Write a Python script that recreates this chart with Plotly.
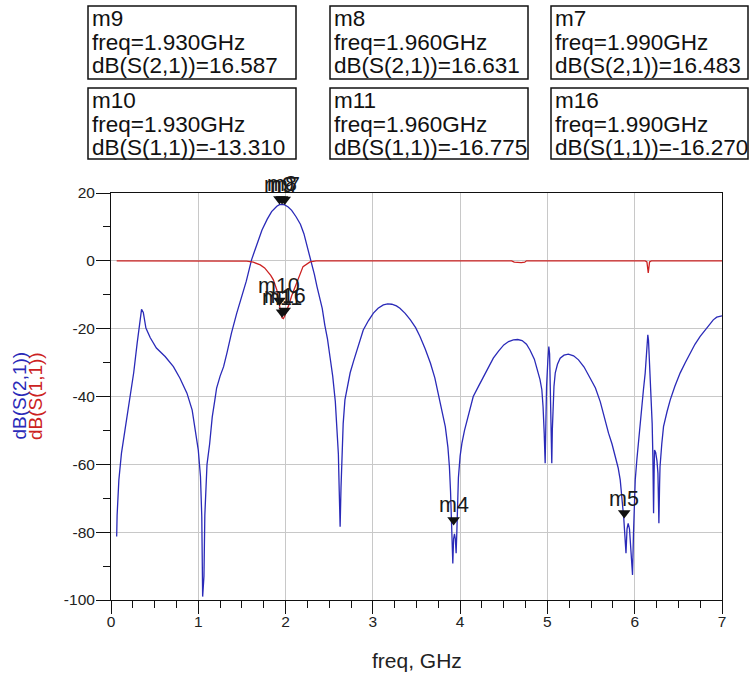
import plotly.graph_objects as go

# ---------------------------------------------------------------- data
# dB(S(2,1)) sweep, frequency in GHz
s21_freq = [0.065, 0.07, 0.09, 0.12, 0.16, 0.21, 0.26, 0.30, 0.33, 0.35, 0.37, 0.40, 0.45,
            0.52, 0.62, 0.715, 0.79, 0.87, 0.93, 0.96, 1.00, 1.025, 1.04, 1.05, 1.065,
            1.075, 1.10, 1.13, 1.16, 1.19, 1.21, 1.25, 1.29, 1.33, 1.38, 1.44, 1.50, 1.55,
            1.61, 1.67, 1.73, 1.79, 1.84, 1.90, 1.93, 1.96, 1.99, 2.03, 2.07, 2.12, 2.17,
            2.21, 2.24, 2.27, 2.30, 2.33, 2.36, 2.39, 2.42, 2.45, 2.48, 2.51, 2.54, 2.57,
            2.59, 2.605, 2.615, 2.625, 2.635, 2.645, 2.66, 2.68, 2.71, 2.74, 2.78, 2.816,
            2.85, 2.89, 2.95, 3.006, 3.06, 3.12, 3.17, 3.217, 3.27, 3.31, 3.37, 3.43, 3.49,
            3.54, 3.60, 3.66, 3.71, 3.75, 3.79, 3.83, 3.86, 3.877, 3.89, 3.897, 3.905,
            3.916, 3.925, 3.935, 3.945, 3.954, 3.962, 3.97, 3.98, 4.00, 4.02, 4.05, 4.08,
            4.115, 4.15, 4.21, 4.27, 4.33, 4.38, 4.44, 4.50, 4.555, 4.61, 4.66, 4.71, 4.76,
            4.80, 4.85, 4.886, 4.915, 4.936, 4.95, 4.963, 4.974, 4.982, 4.99, 5.005, 5.016,
            5.025, 5.03, 5.04, 5.05, 5.056, 5.062, 5.075, 5.09, 5.115, 5.146, 5.19, 5.24,
            5.30, 5.356, 5.42, 5.49, 5.55, 5.605, 5.65, 5.70, 5.74, 5.776, 5.81, 5.834,
            5.85, 5.864, 5.875, 5.883, 5.90, 5.912, 5.925, 5.94, 5.96, 5.975, 5.986, 5.995,
            6.006, 6.025, 6.044, 6.063, 6.083, 6.10, 6.12, 6.14, 6.15, 6.158, 6.166, 6.178,
            6.19, 6.20, 6.208, 6.216, 6.222, 6.227, 6.24, 6.255, 6.266, 6.277, 6.285, 6.29,
            6.31, 6.33, 6.37, 6.407, 6.46, 6.52, 6.58, 6.636, 6.69, 6.75, 6.81, 6.865,
            6.90, 6.94, 6.97, 7.00]
s21_db = [-81.3, -75.0, -64.6, -56.7, -49.9, -42.0, -33.0, -24.2, -18.3, -14.3, -15.2, -19.8,
          -22.7, -25.7, -28.2, -31.2, -34.6, -39.0, -44.0, -48.9, -55.8, -63.6, -75.4, -99.0,
          -93.0, -75.0, -60.0, -54.0, -46.0, -41.0, -37.5, -34.0, -31.2, -27.0, -21.3, -15.5,
          -10.5, -6.0, 0.3, 5.0, 9.1, 12.3, 14.5, 16.1, 16.587, 16.631, 16.483, 15.9, 14.9,
          13.0, 10.8, 8.0, 5.2, 2.2, -0.7, -4.0, -7.6, -11.0, -14.0, -19.0, -23.0, -28.5,
          -34.0, -41.5, -50.0, -57.0, -68.0, -78.4, -67.0, -56.7, -48.0, -41.0, -36.5, -33.0,
          -29.5, -26.3, -23.2, -20.4, -17.6, -15.4, -14.0, -13.0, -12.7, -12.8, -13.3, -14.0,
          -15.5, -17.4, -19.7, -22.3, -26.0, -30.2, -34.5, -39.0, -43.5, -48.9, -55.0, -60.7,
          -68.0, -74.4, -82.0, -89.2, -82.0, -80.5, -82.0, -86.2, -80.0, -74.4, -64.0, -57.5,
          -53.8, -50.0, -46.9, -43.5, -40.0, -37.0, -34.1, -31.2, -28.7, -26.6, -24.8, -23.8,
          -23.3, -23.2, -23.5, -24.6, -26.3, -29.0, -32.2, -35.0, -38.0, -43.0, -50.8, -59.7,
          -48.0, -37.1, -29.2, -25.3, -27.5, -33.0, -50.8, -59.7, -50.0, -43.0, -37.0, -33.0,
          -30.5, -28.7, -27.8, -27.5, -28.0, -29.2, -31.3, -34.6, -37.5, -41.5, -46.0, -50.8,
          -54.0, -57.7, -61.0, -64.6, -68.5, -72.5, -76.0, -79.3, -86.2, -79.0, -77.4, -79.0,
          -86.2, -92.6, -80.3, -72.0, -64.6, -58.5, -52.8, -48.0, -43.0, -38.0, -33.1, -25.3,
          -21.8, -23.5, -28.2, -32.2, -38.0, -48.0, -57.7, -74.4, -63.0, -55.8, -56.5, -59.0,
          -62.6, -77.4, -66.0, -60.7, -54.0, -48.9, -44.5, -41.0, -37.0, -33.1, -30.0, -27.2,
          -24.6, -22.3, -20.2, -18.4, -17.4, -16.6, -16.3, -16.2]

# dB(S(1,1)) sweep
s11_freq = [0.065, 1.50, 1.555, 1.63, 1.71, 1.76, 1.80, 1.83, 1.86, 1.88, 1.90, 1.915, 1.93,
            1.945, 1.96, 1.975, 1.99, 2.01, 2.04, 2.07, 2.11, 2.15, 2.20, 2.28, 2.35, 4.59,
            4.62, 4.70, 4.74, 4.76, 6.12, 6.14, 6.155, 6.17, 6.19, 7.00]
s11_db = [0.0, 0.0, -0.1, -0.4, -1.2, -2.1, -3.2, -4.3, -5.6, -7.0, -8.6, -10.8, -13.31,
          -15.3, -16.775, -17.0, -16.27, -15.0, -12.8, -10.3, -7.6, -4.6, -1.7, -0.3, 0.0, 0.0,
          -0.4, -0.5, -0.4, 0.0, 0.0, -0.3, -3.6, -0.3, 0.0, 0.0]

# markers placed on the traces
mk_names = ["m9", "m8", "m7", "m10", "m11", "m16", "m4", "m5"]
mk_freq = [1.930, 1.960, 1.990, 1.930, 1.960, 1.990, 3.925, 5.880]
mk_db = [16.587, 16.631, 16.483, -13.310, -16.775, -16.270, -78.0, -76.0]
mk_trace = ["dB(S(2,1))", "dB(S(2,1))", "dB(S(2,1))", "dB(S(1,1))", "dB(S(1,1))",
            "dB(S(1,1))", "dB(S(2,1))", "dB(S(2,1))"]
# readout boxes (first six markers), two rows of three
box_markers = ["m9", "m8", "m7", "m10", "m11", "m16"]

x_ticks = [0, 1, 2, 3, 4, 5, 6, 7]
y_ticks = [-100, -80, -60, -40, -20, 0, 20]

# ---------------------------------------------------------------- layout geometry
W, H = 753, 673
PL, PR, PT, PB = 111, 722, 193, 600          # plot area in pixels
Y_MIN, Y_MAX = -100, 20
FONT = "Liberation Sans, Arial, sans-serif"
BLUE = "#2a2ab8"
RED = "#cc2222"


def fx(px):
    return (px - PL) / (PR - PL)


def fy(py):
    return (PB - py) / (PB - PT)


px_per_db = (PB - PT) / (Y_MAX - Y_MIN)

fig = go.Figure()
fig.add_trace(go.Scatter(x=s21_freq, y=s21_db, mode="lines", name="dB(S(2,1))",
                         line=dict(color=BLUE, width=1.3)))
fig.add_trace(go.Scatter(x=s11_freq, y=s11_db, mode="lines", name="dB(S(1,1))",
                         line=dict(color=RED, width=1.3)))

# downward triangles with their tip on the marked point
TRI = 11
tip_off = (TRI / 2) / px_per_db
fig.add_trace(go.Scatter(x=mk_freq, y=[v + tip_off for v in mk_db], mode="markers",
                         marker=dict(symbol="triangle-down", size=TRI, color="#111111",
                                     line=dict(width=0)),
                         cliponaxis=False, hoverinfo="skip"))

annotations = []
for name, f, v in zip(mk_names, mk_freq, mk_db):
    annotations.append(dict(x=f, y=v, xref="x", yref="y", text=name, showarrow=False,
                            xanchor="center", yanchor="bottom", yshift=6,
                            font=dict(family=FONT, size=21.5, color="#1a1a1a")))

# readout boxes
shapes = []
box_cols = [(88, 296), (330, 528), (551, 748)]
box_rows = [(6, 79), (88, 159)]
for i, name in enumerate(box_markers):
    k = mk_names.index(name)
    c0, c1 = box_cols[i % 3]
    r0, r1 = box_rows[i // 3]
    shapes.append(dict(type="rect", xref="paper", yref="paper",
                       x0=fx(c0), x1=fx(c1), y0=fy(r1), y1=fy(r0),
                       line=dict(color="#111111", width=1.5), fillcolor="white", layer="above"))
    lines = [name, "freq=%.3fGHz" % mk_freq[k], "%s=%.3f" % (mk_trace[k], mk_db[k])]
    for j, txt in enumerate(lines):
        annotations.append(dict(x=fx(c0 + 2), y=fy(r0 + 12 + 24 * j), xref="paper",
                                yref="paper", text=txt, showarrow=False, xanchor="left",
                                yanchor="middle",
                                font=dict(family=FONT, size=22.5, color="#111111")))

# stacked, rotated y-axis titles
annotations.append(dict(x=fx(18.5), y=fy(396), xref="paper", yref="paper", text="dB(S(2,1))",
                        textangle=-90, showarrow=False, xanchor="center", yanchor="middle",
                        font=dict(family=FONT, size=19, color=BLUE)))
annotations.append(dict(x=fx(35), y=fy(396), xref="paper", yref="paper", text="dB(S(1,1))",
                        textangle=-90, showarrow=False, xanchor="center", yanchor="middle",
                        font=dict(family=FONT, size=19, color=RED)))
# x-axis title
annotations.append(dict(x=fx(416.5), y=fy(660), xref="paper", yref="paper", text="freq, GHz",
                        showarrow=False, xanchor="center", yanchor="middle",
                        font=dict(family=FONT, size=21, color="#222222")))

axis_common = dict(showline=True, linecolor="#111111", linewidth=1, mirror=True,
                   showgrid=True, gridcolor="#c8c8c8", gridwidth=1, zeroline=False,
                   ticks="outside", tickcolor="#111111", tickwidth=1,
                   tickfont=dict(family=FONT, size=15.5, color="#222222"))

fig.update_layout(
    width=W, height=H,
    margin=dict(l=PL, r=W - PR, t=PT, b=H - PB),
    paper_bgcolor="white", plot_bgcolor="white",
    showlegend=False,
    xaxis=dict(range=[0, 7], tickvals=x_ticks, ticktext=[str(v) for v in x_ticks],
               ticklen=13, ticklabelstandoff=-6,
               minor=dict(dtick=0.25, ticklen=7, ticks="outside", tickcolor="#111111",
                          showgrid=False),
               **axis_common),
    yaxis=dict(range=[Y_MIN, Y_MAX], tickvals=y_ticks, ticktext=[str(v) for v in y_ticks],
               ticklen=14, ticklabelstandoff=-2,
               minor=dict(dtick=10, ticklen=7, ticks="outside", tickcolor="#111111",
                          showgrid=False),
               **axis_common),
    shapes=shapes,
    annotations=annotations,
)

fig.write_html("out.html")
